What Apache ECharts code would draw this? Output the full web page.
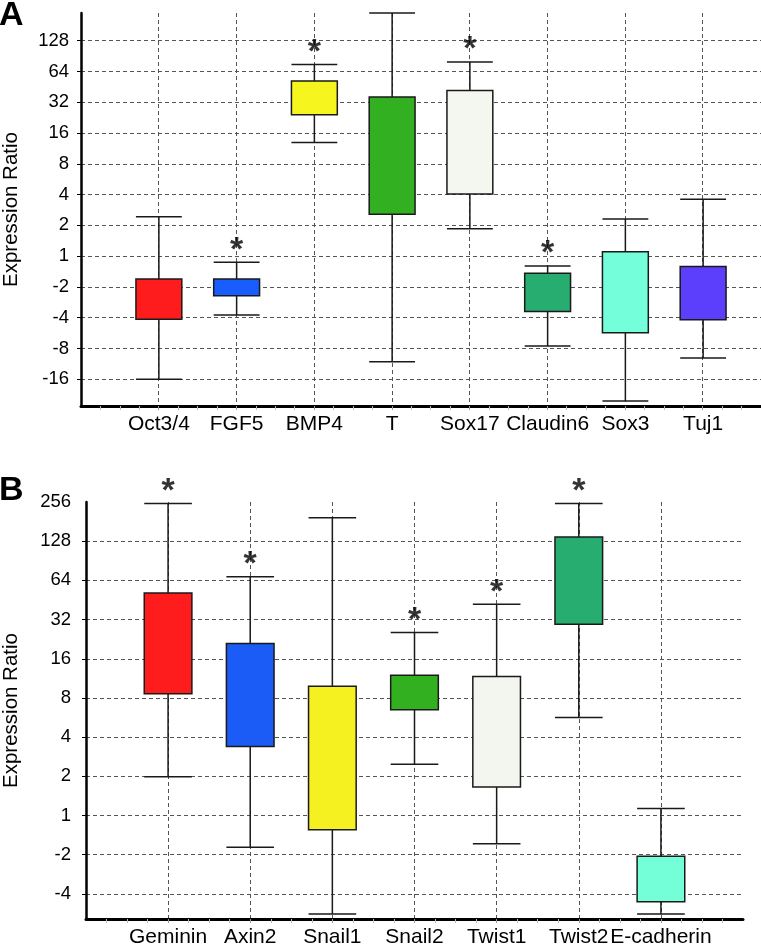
<!DOCTYPE html>
<html>
<head>
<meta charset="utf-8">
<script src="https://cdn.jsdelivr.net/npm/echarts@6.0.0/dist/echarts.min.js"></script>
<style>
html, body { margin: 0; padding: 0; background: #fff; }
#chart { width: 761px; height: 951px; }
</style>
</head>
<body>
<div id="chart"></div>
<script>
// values are log2 of the expression ratio (-1 = "-2", 0 = "1", 7 = "128")

// panel A
const genesA = ['Oct3/4', 'FGF5', 'BMP4', 'T', 'Sox17', 'Claudin6', 'Sox3', 'Tuj1']
const lowA = [-4.0, -1.91, 3.69, -3.43, 0.89, -2.92, -4.71, -3.31]
const q1A = [-2.05, -1.29, 4.59, 1.36, 2.02, -1.8, -2.49, -2.07]
const q3A = [-0.74, -0.74, 5.69, 5.17, 5.38, -0.56, 0.14, -0.34]
const highA = [1.28, -0.2, 6.23, 7.9, 6.31, -0.32, 1.21, 1.85]
const sigA = [0, 1, 1, 0, 1, 1, 0, 0]
const ticksA = [-4, -3, -2, -1, 0, 1, 2, 3, 4, 5, 6, 7]
const tickLabelsA = ['-16', '-8', '-4', '-2', '1', '2', '4', '8', '16', '32', '64', '128']
const colorsA = ['#ff1c1c', '#1a5dff', '#f7f51e', '#33b021', '#f4f6f0', '#27ad6f', '#74ffda', '#5b3ffc']

// panel B
const genesB = ['Geminin', 'Axin2', 'Snail1', 'Snail2', 'Twist1', 'Twist2', 'E-cadherin']
const lowB = [0.99, -0.81, -2.51, 1.31, -0.72, 2.5, -2.51]
const q1B = [3.11, 1.76, -0.36, 2.7, 0.73, 4.88, -2.2]
const q3B = [5.68, 4.39, 3.3, 3.58, 3.55, 7.11, -1.04]
const highB = [7.96, 6.09, 7.6, 4.67, 5.39, 7.96, 0.18]
const sigB = [1, 1, 0, 1, 1, 1, 0]
const ticksB = [-2, -1, 0, 1, 2, 3, 4, 5, 6, 7, 8]
const tickLabelsB = ['-4', '-2', '1', '2', '4', '8', '16', '32', '64', '128', '256']
const colorsB = ['#ff1c1c', '#1a5cf5', '#f5f01f', '#33b01f', '#f3f5ef', '#27ad6f', '#74ffd8']

const FONT = '"Liberation Sans", Arial, sans-serif'
const gridLine = { show: true, lineStyle: { color: '#555', width: 1, type: [4, 3] } }

const chart = echarts.init(document.getElementById('chart'))

const grids = []
const xAxes = []
const yAxes = []
const series = []

// frame: outer axes + grid lines, inner: the boxes on a category axis
const addPanel = (p) => {
  const g = grids.length
  grids.push({ left: p.left, top: p.top, right: p.right, bottom: p.bottom, outerBoundsMode: 'none', containLabel: false })
  grids.push({ left: p.innerLeft, top: p.top, right: p.innerRight, bottom: p.bottom, outerBoundsMode: 'none', containLabel: false })

  const centers = p.genes.map((_, i) => i)
  xAxes.push({
    type: 'value', gridIndex: g, min: -1, max: p.xMax, interval: 1,
    axisLine: { show: true, onZero: false, lineStyle: { color: '#000', width: 3 } },
    axisTick: { show: true, customValues: centers, length: 4, lineStyle: { color: '#999' } },
    minorTick: { show: true, splitNumber: 4, length: 4, lineStyle: { color: '#bbb' } },
    axisLabel: { show: false },
    splitLine: gridLine
  })
  xAxes.push({
    type: 'category', gridIndex: g + 1, data: p.genes, boundaryGap: true,
    axisLine: { show: false }, axisTick: { show: false }, splitLine: { show: false },
    axisLabel: { interval: 0, fontSize: 21, color: '#000', margin: 8, fontFamily: FONT }
  })

  const lineTicks = p.ticks.filter(t => t < p.yMax)
  yAxes.push({
    type: 'value', gridIndex: g, min: p.yMin, max: p.yMax,
    axisLine: { show: true, onZero: false, lineStyle: { color: '#000', width: 2.5 } },
    axisTick: { show: true, customValues: lineTicks, length: 4, lineStyle: { color: '#000' } },
    axisLabel: {
      customValues: p.ticks, fontSize: 18.5, color: '#000', margin: p.labelMargin, fontFamily: FONT,
      formatter: v => p.tickLabels[p.ticks.indexOf(Math.round(v))]
    },
    splitLine: gridLine,
    name: 'Expression Ratio', nameLocation: 'middle', nameRotate: 90, nameGap: p.nameGap,
    nameTextStyle: { fontSize: 20.5, color: '#000', fontFamily: FONT }
  })
  yAxes.push({ type: 'value', gridIndex: g + 1, min: p.yMin, max: p.yMax, show: false })

  series.push({
    type: 'boxplot', xAxisIndex: xAxes.length - 1, yAxisIndex: yAxes.length - 1,
    boxWidth: [p.boxWidth, p.boxWidth], silent: true,
    itemStyle: { borderColor: '#1a1a1a', borderWidth: 1.5 },
    emphasis: { disabled: true },
    // no median drawn in the figure: put it on the lower edge
    data: p.genes.map((_, i) => ({
      value: [p.low[i], p.q1[i], p.q1[i], p.q3[i], p.high[i]],
      itemStyle: { color: p.colors[i] }
    }))
  })
  // significance stars above the upper whisker
  series.push({
    type: 'scatter', xAxisIndex: xAxes.length - 1, yAxisIndex: yAxes.length - 1,
    symbolSize: 2, itemStyle: { color: 'rgba(0,0,0,0)' }, silent: true, z: 5,
    label: {
      show: true, formatter: '*', position: 'inside', offset: [0, -12],
      fontSize: 34, fontWeight: 'bold', color: '#000', textBorderWidth: 0, fontFamily: FONT
    },
    data: p.genes.map((_, i) => [i, p.high[i]]).filter((_, i) => p.sig[i])
  })
}

addPanel({
  genes: genesA, low: lowA, q1: q1A, q3: q3A, high: highA, sig: sigA, colors: colorsA,
  ticks: ticksA, tickLabels: tickLabelsA,
  left: 81, top: 13, right: 0, bottom: 545, innerLeft: 120, innerRight: 19,
  xMax: 7.75, yMin: -4.87, yMax: 7.9, labelMargin: 12, nameGap: 59, boxWidth: '59%'
})
addPanel({
  genes: genesB, low: lowB, q1: q1B, q3: q3B, high: highB, sig: sigB, colors: colorsB,
  ticks: ticksB, tickLabels: tickLabelsB,
  left: 86, top: 502, right: 18, bottom: 32, innerLeft: 127, innerRight: 59,
  xMax: 7, yMin: -2.64, yMax: 8, labelMargin: 15, nameGap: 64, boxWidth: '58%'
})

chart.setOption({
  animation: false,
  textStyle: { fontFamily: FONT },
  title: [
    { text: 'A', left: -1, top: -1, padding: 0, textStyle: { fontSize: 34, fontWeight: 'bold', color: '#000' } },
    { text: 'B', left: -1, top: 474, padding: 0, textStyle: { fontSize: 34, fontWeight: 'bold', color: '#000' } }
  ],
  grid: grids,
  xAxis: xAxes,
  yAxis: yAxes,
  series: series
})
</script>
</body>
</html>
